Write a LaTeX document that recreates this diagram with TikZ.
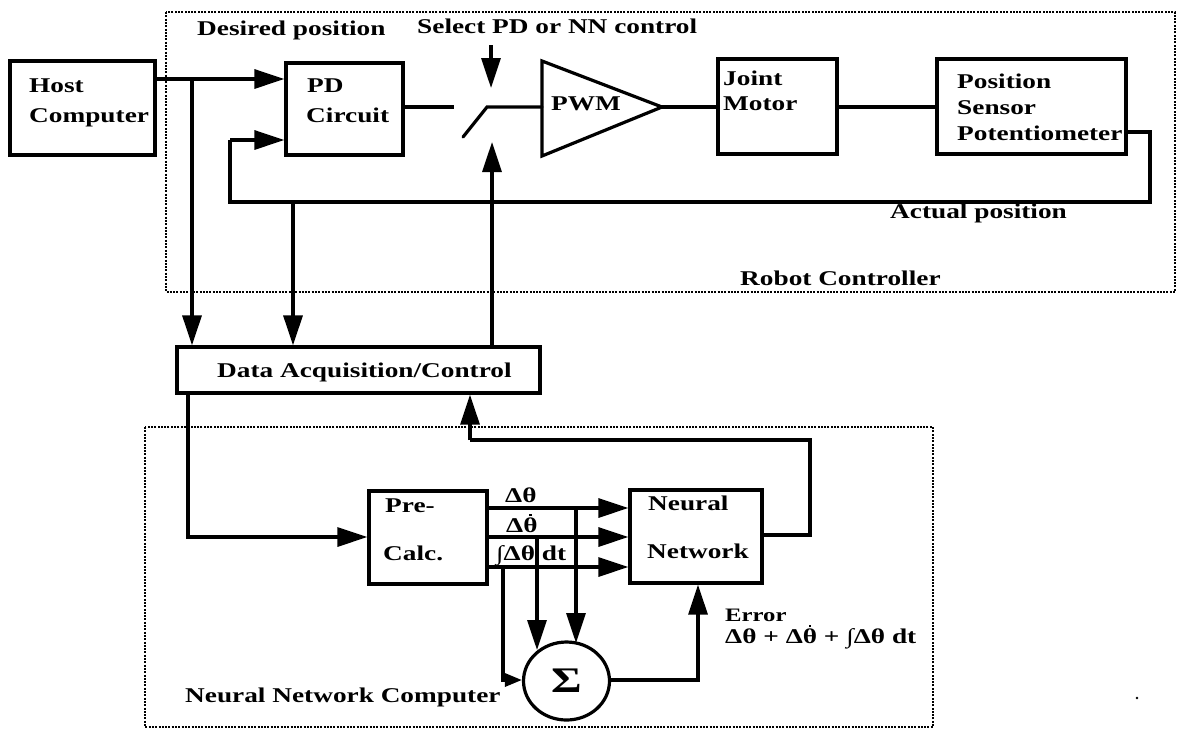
\documentclass[tikz,border=0pt]{standalone}
\usepackage{fontspec}
\setmainfont{Liberation Serif}[FakeStretch=1.3]
\usetikzlibrary{arrows.meta,shapes.geometric}
% theta with a dot above (time derivative), the dot drawn as a small square rule
\newcommand\thdot{\leavevmode\hbox{\ooalign{θ\cr\hidewidth\smash{\rule[.74em]{2.8pt}{2.8pt}}\hidewidth\cr}}}
\begin{document}
\begin{tikzpicture}[x=1pt,y=-1pt,
  font=\fontsize{21}{25}\selectfont\bfseries,
  box/.style={draw,line width=3.2pt,inner sep=0pt},
  wire/.style={line width=3.2pt},
  arr/.style={wire,-{Triangle[length=30pt,width=19pt]}},
  smallarr/.style={wire,-{Triangle[length=17pt,width=13pt]}},
  frame/.style={line width=2pt,dash pattern=on 2pt off 1.3pt},
  lbl/.style={anchor=base west,inner sep=0pt},
  tight/.style={text height=12pt,text depth=0pt},
  small/.style={font=\fontsize{19}{22}\selectfont\bfseries}]
\useasboundingbox (0,0) rectangle (1177,729);

% ---- enclosing frames ----
\draw[frame] (166,12) rectangle (1175,292);
\draw[frame] (145,427) rectangle (933,727);

% ---- robot controller blocks ----
\node[box,minimum width=145pt,minimum height=94pt] (host) at (82.5,108) {};
\node[box,minimum width=117pt,minimum height=92pt] (pd) at (344.5,109) {};
\node[box,minimum width=119pt,minimum height=95pt] (joint) at (777.5,106.5) {};
\node[box,minimum width=189pt,minimum height=95pt] (pos) at (1031.5,106.5) {};
\coordinate (pwmin) at (542,107);
\coordinate (pwmout) at (662,107);
\draw[wire,line join=miter] (542,61) -- (pwmout) -- (542,156) -- cycle;

\node[lbl] (hostA) at (29,92) {Host};
\node[lbl] (hostB) at (29,122) {Computer};
\node[lbl] (pdA) at (307,92) {PD};
\node[lbl] (pdB) at (306,122) {Circuit};
\node[lbl] (pwmT) at (551,110) {PWM};
\node[lbl] (jointA) at (723,85) {Joint};
\node[lbl] (jointB) at (723,110) {Motor};
\node[lbl] (posA) at (957,88) {Position};
\node[lbl] (posB) at (957,114) {Sensor};
\node[lbl] (posC) at (957,140) {Potentiometer};
\node[lbl] (desired) at (197,35) {Desired position};
\node[lbl] (select) at (417,33) {Select PD or NN control};
\node[lbl] (actual) at (890,218) {Actual position};
\node[lbl] (robot) at (740,285) {Robot Controller};

% ---- switch ----
\coordinate (swin) at (454,107);
\coordinate (swlo) at (463,137);
\coordinate (swhi) at (487,107);
\coordinate (selTop) at (491,45);
\coordinate (selTip) at (491,88);
\coordinate (swBot) at (492,142);
\draw[wire] (pd.east |- swin) -- (swin);
\draw[wire,line cap=round] (swlo) -- (swhi) -- (pwmin);
\draw[arr] (selTop) -- (selTip);

% ---- forward path ----
\draw[wire] (pwmout) -- (joint.west |- pwmout);
\draw[wire] (joint.east |- pwmout) -- (pos.west |- pwmout);

% ---- host to PD and to data acquisition ----
\node[box,minimum width=363pt,minimum height=46pt] (daq) at (358.5,370) {};
\node[lbl] (daqT) at (217,377) {Data Acquisition/Control};
\coordinate (hostTap) at (192,79);
\draw[arr] (host.east |- hostTap) -- (pd.west |- hostTap);
\draw[arr] (hostTap) -- (daq.north -| hostTap);

% ---- position feedback ----
\coordinate (fbA) at (1150,132);
\coordinate (fbB) at (1150,202);
\coordinate (fbC) at (230,202);
\coordinate (fbD) at (230,140);
\coordinate (fbTap) at (293,202);
\draw[wire] (pos.east |- fbA) -- (fbA) -- (fbB) -- (fbC) -- (fbD);
\draw[arr] (fbD) -- (pd.west |- fbD);
\draw[arr] (fbTap) -- (daq.north -| fbTap);
\draw[arr] (daq.north -| swBot) -- (swBot);

% ---- neural network computer ----
\node[box,minimum width=118pt,minimum height=93pt] (pre) at (428,537.5) {};
\node[box,minimum width=132pt,minimum height=93pt] (nn) at (696,536.5) {};
\node[draw,ellipse,line width=3.2pt,minimum width=86pt,minimum height=78pt,inner sep=0pt]
  (sum) at (566.5,681) {\fontsize{36}{36}\selectfont Σ};

\node[lbl] (preA) at (385,512) {Pre-};
\node[lbl] (preB) at (383,560) {Calc.};
\node[lbl] (nnA) at (648,510) {Neural};
\node[lbl] (nnB) at (647,558) {Network};
\node[lbl] (nnc) at (185,702) {Neural Network Computer};

% data acquisition to pre-calculation
\coordinate (daqOut) at (188,537);
\draw[arr] (daq.south -| daqOut) -- (daqOut) -- (pre.west |- daqOut);

% three error signals
\coordinate (e1) at (576,508);
\coordinate (e2) at (537,537);
\coordinate (e3) at (503,567);
\draw[arr] (pre.east |- e1) -- (nn.west |- e1);
\draw[arr] (pre.east |- e2) -- (nn.west |- e2);
\draw[arr] (pre.east |- e3) -- (nn.west |- e3);
\node[lbl,tight] (l1) at (505,502) {Δθ};
\node[lbl,tight] (l2) at (506,532) {Δ\thdot};
\node[lbl,tight] (l3) at (496,560) {∫Δθ dt};

% summation
\coordinate (s1) at (576,643);
\coordinate (s2) at (537,650);
\coordinate (s3) at (503,680);
\draw[arr] (e1) -- (s1);
\draw[arr] (e2) -- (s2);
\draw[smallarr] (e3) -- (s3) -- (sum.west |- s3);
\coordinate (errUp) at (698,680);
\draw[arr] (sum.east |- errUp) -- (errUp) -- (nn.south -| errUp);
\node[lbl,small,tight] (errA) at (725,621) {Error};
\node[lbl,tight] (errB) at (725,643) {Δθ + Δ\thdot{} + ∫Δθ dt};

% network output back to data acquisition
\coordinate (oA) at (810,535);
\coordinate (oB) at (810,440);
\coordinate (oC) at (470,440);
\draw[wire] (nn.east |- oA) -- (oA) -- (oB) -- (oC);
\draw[arr] (oC) -- (daq.south -| oC);

\fill (1137,698) circle (1.4pt);
\end{tikzpicture}
\end{document}
